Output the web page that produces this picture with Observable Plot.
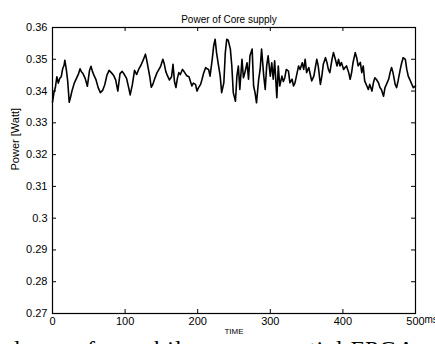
<!DOCTYPE html>
<html>
<head>
<meta charset="utf-8">
<script src="https://cdn.jsdelivr.net/npm/d3@7"></script>
<script src="https://cdn.jsdelivr.net/npm/@observablehq/plot@0.6"></script>
<style>
  html, body { margin: 0; padding: 0; background: #fff; overflow: hidden; }
  #wrap { position: relative; width: 435px; height: 344px; overflow: hidden; }
  #below { position: absolute; left: 0; top: 336px; white-space: nowrap;
           font-family: "Liberation Serif", serif; font-size: 24px; color: #000; letter-spacing: 1px; }
</style>
</head>
<body>
<div id="wrap">
  <div id="chart"></div>
  <div id="below">&nbsp;&nbsp;layer of a mobile&nbsp;&nbsp;&nbsp;&nbsp;&nbsp;&nbsp;sequential FPGA a</div>
</div>
<script>
const title = "Power of Core supply";
const yLabel = "Power [Watt]";
const xLabel = "TIME";
const xUnit = "ms";
const xTicks = [0, 100, 200, 300, 400, 500];
const yTicks = [0.27, 0.28, 0.29, 0.30, 0.31, 0.32, 0.33, 0.34, 0.35, 0.36];

const times = [
  0, 2, 4, 6, 8, 10, 12, 14, 16, 17, 19, 21, 23, 25, 27, 30, 33, 36, 38, 40,
  42, 45, 48, 51, 53, 55, 57, 60, 63, 66, 69, 72, 75, 78, 81, 84, 87, 90, 93, 96,
  99, 102, 105, 107, 110, 113, 116, 119, 122, 125, 128, 130, 132, 134, 136, 138, 141, 144, 147, 149,
  152, 154, 156, 158, 161, 164, 166, 168, 170, 172, 174, 176, 179, 181, 183, 185, 188, 190, 192, 194,
  197, 199, 201, 204, 206, 208, 211, 213, 215, 217, 220, 222, 224, 226, 228, 231, 233, 236, 238, 240,
  242, 245, 247, 249, 252, 254, 256, 258, 261, 263, 265, 268, 270, 272, 275, 277, 279, 281, 284, 286,
  288, 291, 293, 295, 297, 300, 302, 304, 306, 309, 311, 313, 316, 318, 320, 322, 325, 327, 330, 332,
  334, 337, 339, 341, 344, 346, 348, 350, 353, 355, 357, 360, 362, 364, 366, 369, 371, 373, 376, 378,
  380, 382, 385, 387, 389, 392, 394, 396, 398, 401, 403, 405, 408, 410, 412, 414, 417, 419, 421, 424,
  426, 428, 430, 433, 435, 437, 440, 442, 444, 446, 449, 451, 453, 456, 458, 460, 463, 465, 467, 469,
  472, 474, 476, 479, 481, 483, 486, 488, 490, 492, 495, 497, 500
];
const power = [
  0.3365, 0.3395, 0.3412, 0.3445, 0.3425, 0.3440, 0.3445, 0.3470, 0.3482, 0.3497, 0.3468, 0.3430, 0.3365, 0.3382, 0.3402, 0.3425, 0.3440, 0.3455, 0.3470, 0.3460,
  0.3455, 0.3440, 0.3415, 0.3465, 0.3478, 0.3462, 0.3450, 0.3435, 0.3410, 0.3395, 0.3402, 0.3420, 0.3450, 0.3465, 0.3458, 0.3450, 0.3435, 0.3400, 0.3455, 0.3462,
  0.3452, 0.3440, 0.3410, 0.3388, 0.3420, 0.3465, 0.3452, 0.3470, 0.3482, 0.3498, 0.3516, 0.3495, 0.3470, 0.3445, 0.3412, 0.3420, 0.3440, 0.3458, 0.3470, 0.3478,
  0.3500, 0.3485, 0.3462, 0.3450, 0.3435, 0.3445, 0.3484, 0.3430, 0.3411, 0.3440, 0.3458, 0.3452, 0.3468, 0.3462, 0.3455, 0.3448, 0.3445, 0.3430, 0.3416, 0.3425,
  0.3421, 0.3400, 0.3410, 0.3421, 0.3437, 0.3455, 0.3474, 0.3470, 0.3468, 0.3447, 0.3500, 0.3542, 0.3563, 0.3520, 0.3490, 0.3447, 0.3395, 0.3426, 0.3520, 0.3563,
  0.3560, 0.3532, 0.3479, 0.3395, 0.3368, 0.3447, 0.3479, 0.3405, 0.3500, 0.3442, 0.3458, 0.3489, 0.3437, 0.3511, 0.3532, 0.3416, 0.3395, 0.3363, 0.3437, 0.3468,
  0.3532, 0.3447, 0.3405, 0.3479, 0.3511, 0.3447, 0.3489, 0.3437, 0.3495, 0.3379, 0.3479, 0.3416, 0.3447, 0.3430, 0.3442, 0.3468, 0.3463, 0.3426, 0.3437, 0.3416,
  0.3426, 0.3458, 0.3479, 0.3468, 0.3489, 0.3468, 0.3500, 0.3458, 0.3474, 0.3453, 0.3432, 0.3447, 0.3474, 0.3500, 0.3479, 0.3421, 0.3447, 0.3484, 0.3505, 0.3490,
  0.3468, 0.3458, 0.3500, 0.3521, 0.3505, 0.3479, 0.3500, 0.3479, 0.3490, 0.3468, 0.3474, 0.3479, 0.3458, 0.3437, 0.3458, 0.3490, 0.3521, 0.3505, 0.3479, 0.3490,
  0.3458, 0.3479, 0.3432, 0.3416, 0.3405, 0.3421, 0.3400, 0.3426, 0.3442, 0.3437, 0.3426, 0.3411, 0.3405, 0.3384, 0.3411, 0.3421, 0.3437, 0.3458, 0.3474, 0.3458,
  0.3421, 0.3411, 0.3432, 0.3468, 0.3489, 0.3505, 0.3500, 0.3468, 0.3447, 0.3437, 0.3421, 0.3411, 0.3416
];

const W = 435, H = 344;
const mL = 52, mR = 20, mT = 27, mB = 31;
const innerW = W - mL - mR, innerH = H - mT - mB;
const tickLen = 4;

const chart = Plot.plot({
  width: W,
  height: H,
  marginLeft: mL,
  marginRight: mR,
  marginTop: mT,
  marginBottom: mB,
  style: { fontFamily: "'Liberation Sans', Arial, sans-serif", background: "transparent", color: "#000" },
  x: { domain: [0, 500] },
  y: { domain: [0.27, 0.36] },
  marks: [
    Plot.axisX(xTicks, { tickSize: 0, tickPadding: 4, fontSize: 11, label: null }),
    Plot.axisY(yTicks, { tickSize: 0, tickPadding: 5, fontSize: 11, label: null, tickFormat: d => String(+d.toFixed(2)) }),
    Plot.tickX(xTicks, { x: d => d, insetBottom: innerH - tickLen, stroke: "#000" }),
    Plot.tickX(xTicks, { x: d => d, insetTop: innerH - tickLen, stroke: "#000" }),
    Plot.tickY(yTicks, { y: d => d, insetRight: innerW - tickLen, stroke: "#000" }),
    Plot.tickY(yTicks, { y: d => d, insetLeft: innerW - tickLen, stroke: "#000" }),
    Plot.line(power, { x: times, y: power, stroke: "#000", strokeWidth: 1.6 }),
    Plot.frame({ stroke: "#000", strokeWidth: 1.2 }),
    Plot.text([title], { frameAnchor: "top", dy: -12, dx: -5, fontSize: 10 }),
    Plot.text([yLabel], { frameAnchor: "left", rotate: -90, dx: -37, fontSize: 11 }),
    Plot.text([xLabel], { frameAnchor: "bottom", dy: 20, fontSize: 8 }),
    Plot.text([xUnit], { x: [500], frameAnchor: "bottom", textAnchor: "start", dx: 9, dy: 9, fontSize: 10 })
  ]
});
document.getElementById("chart").appendChild(chart);
</script>
</body>
</html>
